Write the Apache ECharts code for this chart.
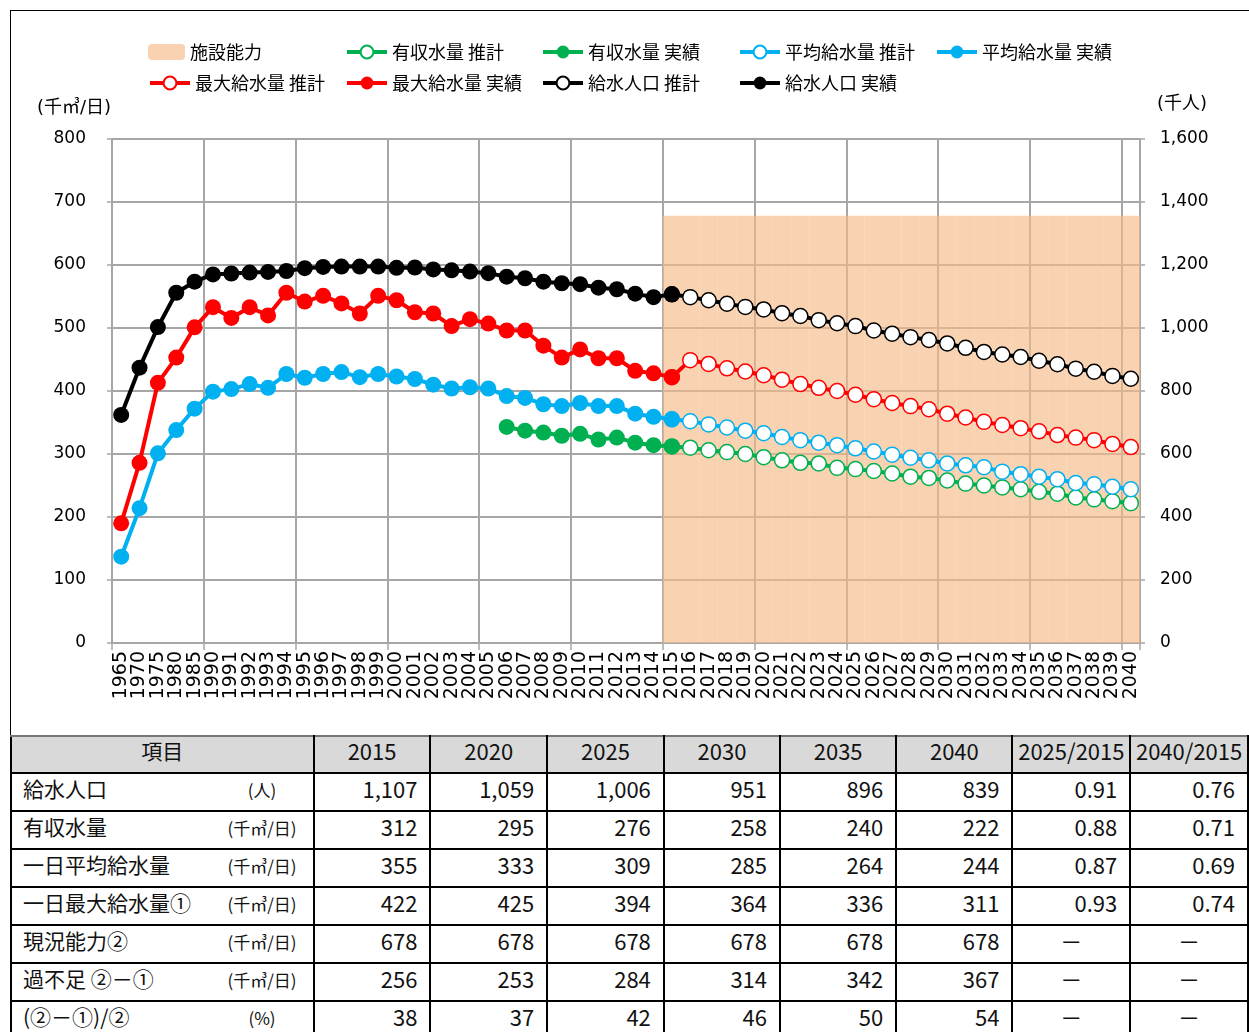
<!DOCTYPE html>
<html>
<head>
<meta charset="utf-8">
<script src="https://cdn.jsdelivr.net/npm/echarts@6/dist/echarts.min.js"></script>
<style>
html,body{margin:0;padding:0;background:#fff;width:1249px;height:1032px;overflow:hidden;}
#frame{position:absolute;left:10px;top:10px;width:1260px;height:725px;border-left:1px solid #000;border-top:1px solid #000;box-sizing:border-box;}
#chart{position:absolute;left:0;top:0;width:1249px;height:735px;}
#tbl{position:absolute;left:10px;top:735px;border-collapse:collapse;table-layout:fixed;font-family:'Noto Sans CJK JP',sans-serif;font-size:22px;color:#111;}
#tbl td{border:2px solid #000;height:34px;padding:0 12px 9px 0;text-align:right;white-space:nowrap;overflow:hidden;box-sizing:border-box;line-height:1;vertical-align:middle;}
#tbl tr.head td{background:#d9d9d9;text-align:center;padding:0 0 9px 0;border-top:2px solid #777;}
#tbl td.lab{text-align:left;padding:0 0 9px 11px;}
#tbl td.lab span.l{display:inline-block;width:199px;font-size:21px;}
#tbl td.lab span.u{display:inline-block;width:80px;text-align:center;font-size:17px;}
#tbl td.c{text-align:center;padding:0 0 9px 0;}
#tbl tr.last td{border-top:2px dotted #999;}
</style>
</head>
<body>
<div id="frame"></div>
<div id="chart"></div>
<table id="tbl"></table>
<script>
// ---------- data ----------
var years = ['1965','1970','1975','1980','1985',
 '1990','1991','1992','1993','1994','1995','1996','1997','1998','1999',
 '2000','2001','2002','2003','2004','2005','2006','2007','2008','2009',
 '2010','2011','2012','2013','2014','2015','2016','2017','2018','2019',
 '2020','2021','2022','2023','2024','2025','2026','2027','2028','2029',
 '2030','2031','2032','2033','2034','2035','2036','2037','2038','2039','2040'];

// actual values 1965..2015 (31 points)
var popActual = [724,874,1003,1112,1147,1170,1173,1176,1178,1181,1190,1194,1195,1195,1195,1191,1192,1186,1183,1179,1174,1163,1158,1147,1142,1139,1128,1123,1109,1098,1107];
var maxActual = [190,286,413,453,501,533,516,533,520,556,542,551,539,523,551,544,525,523,503,514,507,496,496,472,453,466,452,452,432,428,422];
var avgActual = [137,214,301,338,372,399,403,411,405,427,421,427,430,422,427,423,419,410,404,406,404,392,389,379,376,381,376,376,364,359,355];
// revenue water actual 2006..2015
var revActual = [343,337,334,329,332,323,326,318,314,312];

// projections 2015..2040 (26 points)
var popProj = [1107,1098,1088,1077,1067,1059,1047,1038,1025,1015,1006,992,982,971,962,951,937,924,916,908,896,885,871,861,848,839];
var maxProj = [422,449,443,436,431,425,418,411,405,400,394,387,381,376,371,364,358,351,346,341,336,330,326,322,316,311];
var avgProj = [355,352,347,342,337,333,327,322,318,314,309,304,299,294,290,285,282,279,272,268,264,260,254,252,248,244];
var revProj = [312,310,306,303,300,295,290,286,285,278,276,273,269,264,262,258,253,250,247,244,240,237,231,228,225,222];

var capacity = 678; // 施設能力 2015..2040

// table
var tblYears = ['2015','2020','2025','2030','2035','2040','2025/2015','2040/2015'];
var tblLabels = ['給水人口','有収水量','一日平均給水量','一日最大給水量①','現況能力②','過不足 ②－①','(②－①)/②'];
var tblUnits = ['(人)','(千㎥/日)','(千㎥/日)','(千㎥/日)','(千㎥/日)','(千㎥/日)','(%)'];
var tblRows = [
 ['1,107','1,059','1,006','951','896','839','0.91','0.76'],
 ['312','295','276','258','240','222','0.88','0.71'],
 ['355','333','309','285','264','244','0.87','0.69'],
 ['422','425','394','364','336','311','0.93','0.74'],
 ['678','678','678','678','678','678','－','－'],
 ['256','253','284','314','342','367','－','－'],
 ['38','37','42','46','50','54','－','－']
];

// ---------- build ----------
var N = years.length;
var i2015 = years.indexOf('2015');
var i2006 = years.indexOf('2006');
function actualArr(arr, start){ var o=[]; for(var i=0;i<N;i++){ o.push(i>=start && i-start<arr.length ? arr[i-start] : null);} return o; }
function projArr(arr){ return actualArr(arr, i2015); }
var capArr = []; for (var i=0;i<N;i++) capArr.push(i>=i2015 ? capacity : null);

var FF = "'DejaVu Sans','Noto Sans CJK JP',sans-serif";
var JF = "'Noto Sans CJK JP',sans-serif";

function projSeries(name, color, data, yIdx){
  return {name:name, type:'line', yAxisIndex:yIdx, data:data, symbol:'circle', symbolSize:15,
    lineStyle:{color:color,width:4}, itemStyle:{color:'#fff',borderColor:color,borderWidth:1.5}, z:3};
}
function actSeries(name, color, data, yIdx){
  return {name:name, type:'line', yAxisIndex:yIdx, data:data, symbol:'circle', symbolSize:16,
    lineStyle:{color:color,width:4}, itemStyle:{color:color,borderColor:color,borderWidth:0}, z:4};
}

var series = [
  {name:'施設能力', type:'bar', data:capArr, barCategoryGap:'0%', barGap:'0%',
   itemStyle:{color:'rgba(246,186,136,0.66)'}, z:1},
  projSeries('有収水量 推計','#00b050',projArr(revProj),0),
  projSeries('平均給水量 推計','#00b0f0',projArr(avgProj),0),
  projSeries('最大給水量 推計','#ff0000',projArr(maxProj),0),
  projSeries('給水人口 推計','#000000',projArr(popProj),1),
  actSeries('有収水量 実績','#00b050',actualArr(revActual,i2006),0),
  actSeries('平均給水量 実績','#00b0f0',actualArr(avgActual,0),0),
  actSeries('最大給水量 実績','#ff0000',actualArr(maxActual,0),0),
  actSeries('給水人口 実績','#000000',actualArr(popActual,0),1)
];

var legendPos = [
  ['施設能力',148,43],['有収水量 推計',345,43],['有収水量 実績',541,43],['平均給水量 推計',738,43],['平均給水量 実績',935,43],
  ['最大給水量 推計',148,74],['最大給水量 実績',345,74],['給水人口 推計',541,74],['給水人口 実績',738,74]
];
var legends = legendPos.map(function(p){
  var isBar = p[0]==='施設能力';
  return {data:[p[0]], left:p[1], top:p[2], padding:0, itemWidth: isBar?37:40, itemHeight: 16,
    lineStyle:{width:4}, textStyle:{fontFamily:JF,fontSize:18,color:'#000'}, selectedMode:false};
});

var chart = echarts.init(document.getElementById('chart'), null, {renderer:'canvas'});
chart.setOption({
  animation:false,
  backgroundColor:'transparent',
  textStyle:{fontFamily:FF},
  grid:{left:112, top:139, width:1028, height:504, containLabel:false},
  legend:legends,
  xAxis:{type:'category', data:years, boundaryGap:true,
    axisLine:{lineStyle:{color:'#a6a6a6',width:1.5}},
    axisTick:{show:true, interval:4, length:7, lineStyle:{color:'#a6a6a6',width:1.5}},
    axisLabel:{interval:0, rotate:90, margin:8, fontSize:19, color:'#000', fontFamily:FF},
    splitLine:{show:true, interval:4, lineStyle:{color:'#a6a6a6',width:2}}
  },
  yAxis:[
    {type:'value', min:0, max:800, interval:100, position:'left',
     axisLine:{show:true, lineStyle:{color:'#a6a6a6',width:1.5}},
     axisTick:{show:true, length:5, lineStyle:{color:'#a6a6a6',width:1.5}},
     axisLabel:{margin:26, fontSize:17, color:'#000', fontFamily:FF},
     splitLine:{show:true, lineStyle:{color:'#a6a6a6',width:2}}},
    {type:'value', min:0, max:1600, interval:200, position:'right',
     axisLine:{show:true, lineStyle:{color:'#a6a6a6',width:1.5}},
     axisTick:{show:true, length:5, lineStyle:{color:'#a6a6a6',width:1.5}},
     axisLabel:{margin:20, fontSize:17, color:'#000', fontFamily:FF,
       formatter:function(v){return v.toLocaleString('en-US');}},
     splitLine:{show:false}}
  ],
  graphic:[
    {type:'text', left:37, top:99, style:{text:'(千㎥/日)', fontSize:18, fontFamily:FF, fill:'#000'}},
    {type:'text', left:1157, top:95, style:{text:'(千人)', fontSize:18, fontFamily:FF, fill:'#000'}}
  ],
  series:series
});

// table
var tbl = document.getElementById('tbl');
var colg = '<colgroup><col style="width:303px">';
for (var c=0;c<tblYears.length;c++) colg += '<col style="width:118px">';
colg += '</colgroup>';
var html = colg + '<tr class="head"><td style="font-size:21px">項目</td>';
tblYears.forEach(function(y){ html += '<td>'+y+'</td>'; });
html += '</tr>';
tblRows.forEach(function(r, ri){
  html += '<tr'+(ri===tblRows.length-1?' class="last"':'')+'><td class="lab"><span class="l">'+tblLabels[ri]+'</span><span class="u">'+tblUnits[ri]+'</span></td>';
  r.forEach(function(v){ html += '<td'+(v==='－'?' class="c"':'')+'>'+v+'</td>'; });
  html += '</tr>';
});
tbl.innerHTML = html;
var trs = tbl.querySelectorAll('tr');
trs[0].style.height='37px';
for (var k=1;k<trs.length;k++) trs[k].style.height='38px';
</script>
</body>
</html>
